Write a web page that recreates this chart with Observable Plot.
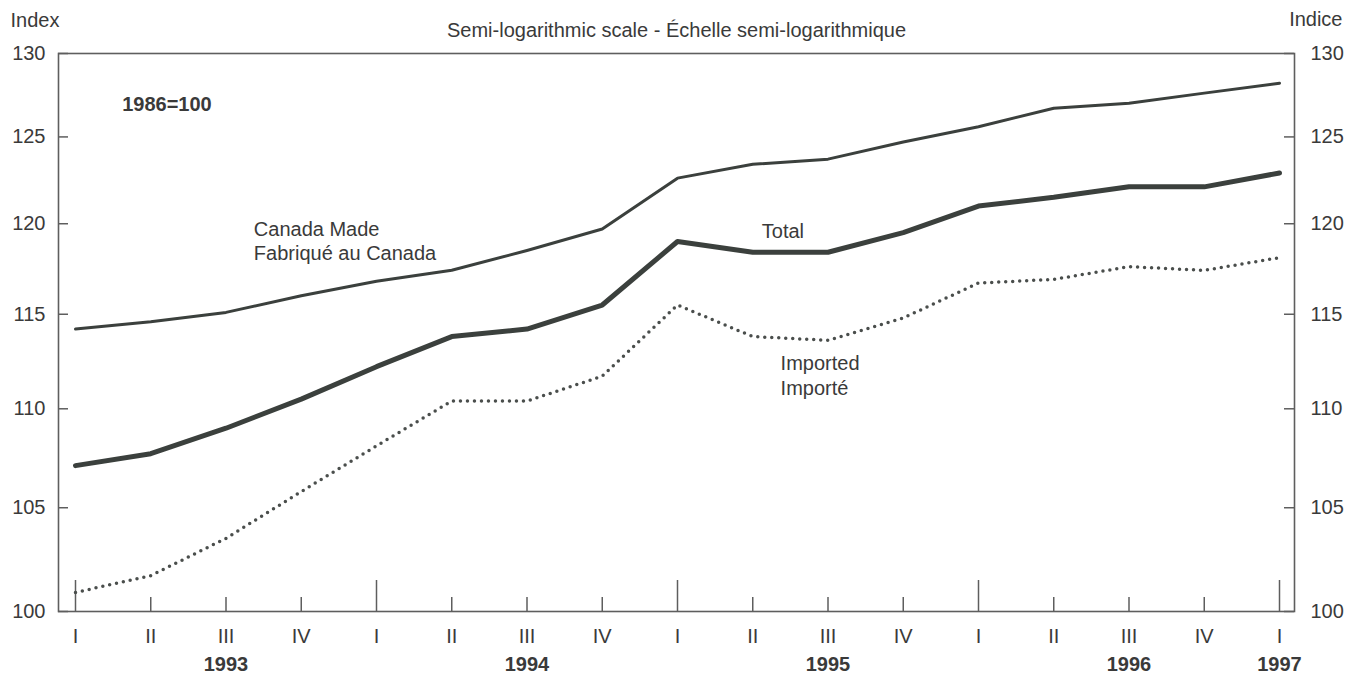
<!DOCTYPE html>
<html>
<head>
<meta charset="utf-8">
<script src="https://cdn.jsdelivr.net/npm/d3@7"></script>
<script src="https://cdn.jsdelivr.net/npm/@observablehq/plot@0.6"></script>
<style>
  html, body { margin: 0; padding: 0; background: #fff; }
</style>
</head>
<body>
<div id="chart"></div>
<script>
// Quarter labels (1993 Q1 .. 1997 Q1)
const quarterLabels = ["I","II","III","IV","I","II","III","IV","I","II","III","IV","I","II","III","IV","I"];
const yearLabels = ["1993","1994","1995","1996","1997"];
const yearLabelQuarter = [2, 6, 10, 14, 16];
const majorQuarters = [0, 4, 8, 12, 16];

// Series values (1986=100)
const canadaMade = [114.2,114.6,115.1,116.0,116.8,117.4,118.5,119.7,122.6,123.4,123.7,124.7,125.6,126.7,127.0,127.6,128.2];
const total      = [107.1,107.7,109.0,110.5,112.2,113.8,114.2,115.5,119.0,118.4,118.4,119.5,121.0,121.5,122.1,122.1,122.9];
const imported   = [100.9,101.7,103.5,105.8,108.1,110.4,110.4,111.7,115.5,113.8,113.6,114.8,116.7,116.9,117.6,117.4,118.1];

const yTicks = [100,105,110,115,120,125,130];

const ink = "#3b403d";
const textInk = "#3a3a3a";
const frameInk = "#5e5e5e";
const FS = 20;

const W = 1360, H = 675;
const mL = 58, mR = 66, mT = 53, mB = 64;
const frameW = W - mL - mR, frameH = H - mT - mB;

const q = d3.range(quarterLabels.length);
const rows = (arr) => q.map(i => ({i, v: arr[i]}));

const chart = Plot.plot({
  width: W,
  height: H,
  marginLeft: mL,
  marginRight: mR,
  marginTop: mT,
  marginBottom: mB,
  style: {fontFamily: "'Liberation Sans', Arial, Helvetica, sans-serif", fontSize: FS + "px", color: textInk, background: "#fff"},
  x: {domain: [0, 16], insetLeft: 17, insetRight: 15, axis: null},
  y: {type: "log", domain: [100, 130], ticks: yTicks},
  marks: [
    Plot.frame({stroke: frameInk, strokeWidth: 1.6}),
    // y tick marks inside the frame, both sides
    Plot.tickY(yTicks, {y: d => d, stroke: frameInk, strokeWidth: 1.5, insetRight: frameW - 10}),
    Plot.tickY(yTicks, {y: d => d, stroke: frameInk, strokeWidth: 1.5, insetLeft: frameW - 10}),
    Plot.axisY({anchor: "left", ticks: yTicks, tickSize: 0, tickPadding: 13, label: null, tickFormat: d => d, fontSize: FS, fill: textInk}),
    Plot.axisY({anchor: "right", ticks: yTicks, tickSize: 0, tickPadding: 16, label: null, tickFormat: d => d, fontSize: FS, fill: textInk}),
    // quarter ticks rising from the bottom edge
    Plot.tickX(q.filter(i => !majorQuarters.includes(i)), {x: d => d, stroke: frameInk, strokeWidth: 1.5, insetTop: frameH - 14}),
    Plot.tickX(majorQuarters, {x: d => d, stroke: frameInk, strokeWidth: 1.5, insetTop: frameH - 31}),
    // quarter labels
    Plot.text(q, {x: d => d, text: d => quarterLabels[d], frameAnchor: "bottom", lineAnchor: "middle", dy: 25, fill: textInk, fontSize: FS}),
    // year labels
    Plot.text(yearLabels, {x: (d, k) => yearLabelQuarter[k], text: d => d, frameAnchor: "bottom", lineAnchor: "middle", dy: 53, fill: textInk, fontWeight: "bold", fontSize: FS}),
    // lines
    Plot.line(rows(canadaMade), {x: "i", y: "v", stroke: ink, strokeWidth: 3}),
    Plot.line(rows(total), {x: "i", y: "v", stroke: ink, strokeWidth: 5}),
    Plot.line(rows(imported), {x: "i", y: "v", stroke: "#4a4e4c", strokeWidth: 3.5, strokeDasharray: "0 7", strokeLinecap: "round"}),
    // annotations
    Plot.text(["1986=100"], {x: 0.62, y: 126.9, text: d => d, textAnchor: "start", fontWeight: "bold", fill: textInk, fontSize: FS}),
    Plot.text(["Canada Made\nFabriqué au Canada"], {x: 2.37, y: 119.06, text: d => d, textAnchor: "start", lineHeight: 1.2, fill: textInk, fontSize: FS}),
    Plot.text(["Total"], {x: 9.12, y: 119.56, text: d => d, textAnchor: "start", fill: textInk, fontSize: FS}),
    Plot.text(["Imported\nImporté"], {x: 9.37, y: 111.78, text: d => d, textAnchor: "start", lineHeight: 1.25, fill: textInk, fontSize: FS}),
    // header texts
    Plot.text(["Index"], {frameAnchor: "top-left", lineAnchor: "middle", text: d => d, textAnchor: "start", dx: -48, dy: -33, fill: textInk, fontSize: FS}),
    Plot.text(["Indice"], {frameAnchor: "top-right", lineAnchor: "middle", text: d => d, textAnchor: "end", dx: 48, dy: -34, fill: textInk, fontSize: FS}),
    Plot.text(["Semi-logarithmic scale - Échelle semi-logarithmique"], {frameAnchor: "top", lineAnchor: "middle", text: d => d, dy: -23, fill: textInk, fontSize: FS})
  ]
});
document.getElementById("chart").appendChild(chart);
</script>
</body>
</html>
